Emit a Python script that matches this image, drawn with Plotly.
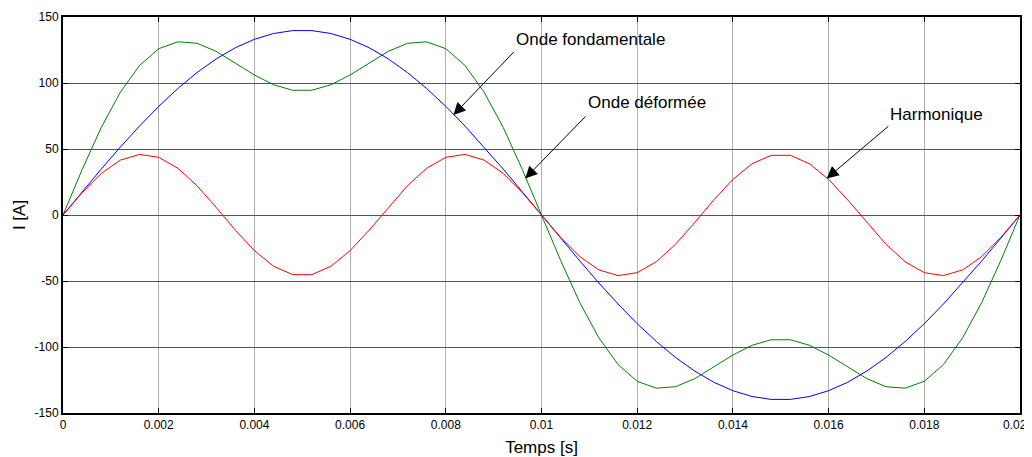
import plotly.graph_objects as go

# Time samples [s]
temps = [0.0, 0.0004, 0.0008, 0.0012, 0.0016, 0.002, 0.0024, 0.0028, 0.0032, 0.0036,
         0.004, 0.0044, 0.0048, 0.0052, 0.0056, 0.006, 0.0064, 0.0068, 0.0072, 0.0076,
         0.008, 0.0084, 0.0088, 0.0092, 0.0096, 0.01, 0.0104, 0.0108, 0.0112, 0.0116,
         0.012, 0.0124, 0.0128, 0.0132, 0.0136, 0.014, 0.0144, 0.0148, 0.0152, 0.0156,
         0.016, 0.0164, 0.0168, 0.0172, 0.0176, 0.018, 0.0184, 0.0188, 0.0192, 0.0196, 0.02]

# Onde fondamentale (blue)
fondamentale = [0, 17.5, 34.8, 51.5, 67.4, 82.3, 95.8, 107.9, 118.2, 126.7,
                133.1, 137.5, 139.7, 139.7, 137.5, 133.1, 126.7, 118.2, 107.9, 95.8,
                82.3, 67.4, 51.5, 34.8, 17.5, 0, -17.5, -34.8, -51.5, -67.4,
                -82.3, -95.8, -107.9, -118.2, -126.7, -133.1, -137.5, -139.7, -139.7, -137.5,
                -133.1, -126.7, -118.2, -107.9, -95.8, -82.3, -67.4, -51.5, -34.8, -17.5, 0]

# Harmonique (red)
harmonique = [0, 16.9, 31.5, 41.6, 45.9, 43.7, 35.4, 22.2, 5.8, -11.4,
              -27.0, -38.8, -45.2, -45.2, -38.8, -27.0, -11.4, 5.8, 22.2, 35.4,
              43.7, 45.9, 41.6, 31.5, 16.9, 0, -16.9, -31.5, -41.6, -45.9,
              -43.7, -35.4, -22.2, -5.8, 11.4, 27.0, 38.8, 45.2, 45.2, 38.8,
              27.0, 11.4, -5.8, -22.2, -35.4, -43.7, -45.9, -41.6, -31.5, -16.9, 0]

# Onde déformée (green)
deformee = [0, 34.4, 66.3, 93.1, 113.3, 126.0, 131.2, 130.1, 124.0, 115.3,
            106.1, 98.7, 94.5, 94.5, 98.7, 106.1, 115.3, 124.0, 130.1, 131.2,
            126.0, 113.3, 93.1, 66.3, 34.4, 0, -34.4, -66.3, -93.1, -113.3,
            -126.0, -131.2, -130.1, -124.0, -115.3, -106.1, -98.7, -94.5, -94.5, -98.7,
            -106.1, -115.3, -124.0, -130.1, -131.2, -126.0, -113.3, -93.1, -66.3, -34.4, 0]

x_ticks = [0, 0.002, 0.004, 0.006, 0.008, 0.01, 0.012, 0.014, 0.016, 0.018, 0.02]
x_tick_labels = ["0", "0.002", "0.004", "0.006", "0.008", "0.01", "0.012", "0.014", "0.016", "0.018", "0.02"]
y_ticks = [-150, -100, -50, 0, 50, 100, 150]
y_tick_labels = ["-150", "-100", "-50", "0", "50", "100", "150"]

# Annotation labels: (text, text position, arrow tail, arrow tip)
labels = ["Onde fondamentale", "Onde déformée", "Harmonique"]
label_pos = [(0.01102, 132.7), (0.01221, 85.1), (0.01826, 76.5)]
arrow_tail = [(0.00945, 124.6), (0.01095, 75.8), (0.01728, 68.2)]
arrow_tip = [(0.00816, 75.8), (0.00966, 27.7), (0.01596, 27.7)]

FONT = "Liberation Sans, Arial, sans-serif"

fig = go.Figure()
fig.add_trace(go.Scatter(x=temps, y=deformee, mode="lines", line=dict(color="#008000", width=1), showlegend=False))
fig.add_trace(go.Scatter(x=temps, y=fondamentale, mode="lines", line=dict(color="#0000FF", width=1), showlegend=False))
fig.add_trace(go.Scatter(x=temps, y=harmonique, mode="lines", line=dict(color="#FF0000", width=1), showlegend=False))

annotations = []
for txt, (tx, ty), (ax, ay), (px, py) in zip(labels, label_pos, arrow_tail, arrow_tip):
    annotations.append(dict(x=tx, y=ty, xref="x", yref="y", text=txt, showarrow=False,
                            font=dict(family=FONT, size=17, color="black")))
    annotations.append(dict(x=px, y=py, xref="x", yref="y", ax=ax, ay=ay, axref="x", ayref="y",
                            text="", showarrow=True, arrowhead=2, arrowsize=2.4, arrowwidth=1,
                            arrowcolor="black", standoff=0))

# Last x tick label drawn right-aligned so that it stays inside the window
annotations.append(dict(x=x_ticks[-1], y=0, xref="x", yref="paper", text=x_tick_labels[-1],
                        showarrow=False, xanchor="right", yanchor="middle", xshift=9, yshift=-12,
                        font=dict(family=FONT, size=12, color="black")))
shown_tick_labels = x_tick_labels[:-1] + [""]

# The page body has an 8px margin, so the figure is sized to fit the window.
fig.update_layout(
    width=1024, height=449,
    margin=dict(l=55, r=12, t=9, b=44),
    paper_bgcolor="white", plot_bgcolor="white",
    font=dict(family=FONT, size=12, color="black"),
    annotations=annotations,
    xaxis=dict(
        range=[0, 0.02], tickmode="array", tickvals=x_ticks, ticktext=shown_tick_labels,
        showgrid=True, gridcolor="#b0b0b0", gridwidth=1, zeroline=False, automargin=False,
        showline=True, linecolor="black", linewidth=2, mirror="ticks",
        ticks="inside", ticklen=5, tickcolor="black", tickwidth=1,
        title=dict(text="Temps [s]", font=dict(family=FONT, size=17), standoff=11),
        tickfont=dict(family=FONT, size=12),
    ),
    yaxis=dict(
        range=[-150, 150], tickmode="array", tickvals=y_ticks, ticktext=y_tick_labels,
        showgrid=True, gridcolor="#555555", gridwidth=1, zeroline=False, automargin=False,
        showline=True, linecolor="black", linewidth=2, mirror="ticks",
        ticks="inside", ticklen=5, tickcolor="black", tickwidth=1,
        title=dict(text="I [A]", font=dict(family=FONT, size=17), standoff=5),
        tickfont=dict(family=FONT, size=12),
    ),
)

fig.write_html("out.html")
